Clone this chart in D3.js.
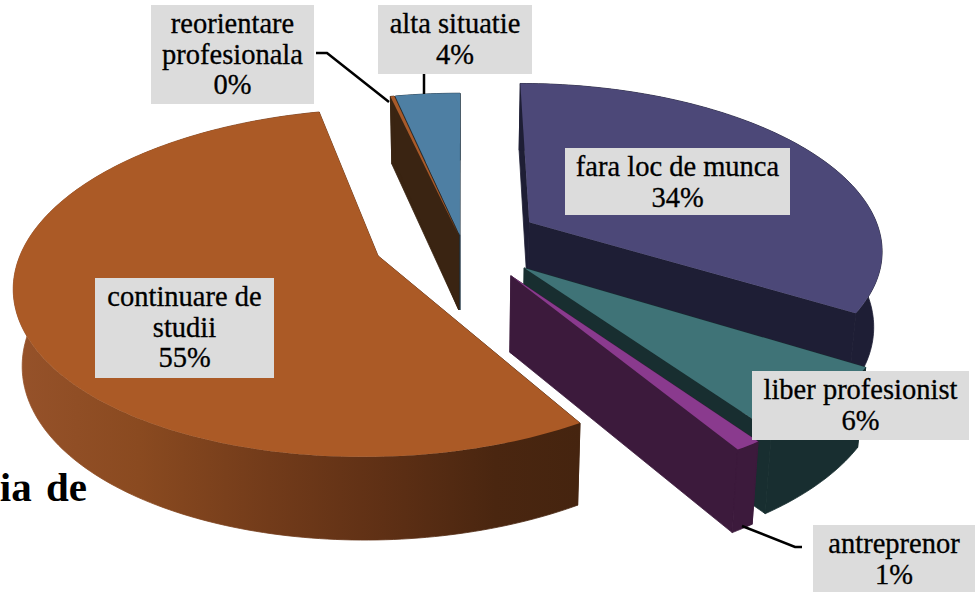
<!DOCTYPE html>
<html>
<head>
<meta charset="utf-8">
<script src="https://cdn.jsdelivr.net/npm/d3@7"></script>
<style>
    html, body { margin: 0; padding: 0; background: #fff; overflow: hidden; }
    text { font-family: "Liberation Serif", serif; }
</style>
</head>
<body>
<div id="chart"></div>
<script>
"use strict";

const categories = ["fara loc de munca", "liber profesionist", "antreprenor", "continuare de studii", "reorientare profesionala", "alta situatie"];
const shares = [33.8, 6.5, 1, 55.1, 0.2, 3.4];
const percentLabels = ["34%", "6%", "1%", "55%", "0%", "4%"];

// how far each slice is pulled out of the pie
const explode = [0.225, 0.24, 0.25, 0.25, 0.03, 0.03];
const topColors = ["#4c4878", "#3f7377", "#8a3a8e", "#ab5a26", "#a85a2a", "#4e7fa3"];
const wallColors = ["#1e1e35", "#182e30", "#3c1a3c", "url(#orangeWall)", "#3a2412", "#1f3545"];

const width = 975, height = 592;

// perspective of the pie plane
const cam = { x0: 461, y0: 240, rx: 353, ry: 165, k: 0.153, depth: 75, lean: 0.02 };

function project(X, Y, down) {
    const w = 1 / (1 - cam.k * Y);
    const sx = cam.x0 + cam.rx * X * w;
    const sy = cam.y0 + cam.ry * Y * w;
    if (!down) return [sx, sy];
    return [cam.x0 + (sx - cam.x0) * (1 - cam.lean), sy + cam.depth * (1 + 0.1 * Y)];
}

const line = d3.line();

const svg = d3.select("#chart").append("svg")
    .attr("width", width)
    .attr("height", height);

const grad = svg.append("defs").append("linearGradient")
    .attr("id", "orangeWall")
    .attr("gradientUnits", "userSpaceOnUse")
    .attr("x1", 15).attr("x2", 580).attr("y1", 0).attr("y2", 0);
[[0, "#96522a"], [0.22, "#8a4a20"], [0.45, "#723b1a"], [0.65, "#5f3015"], [0.85, "#4a2610"], [1, "#45240f"]]
    .forEach(d => grad.append("stop").attr("offset", d[0]).attr("stop-color", d[1]));

// the title behind the chart, cut off by the page edge
svg.append("text")
    .attr("x", 87)
    .attr("y", 501)
    .attr("text-anchor", "end")
    .attr("font-size", 41)
    .attr("font-weight", "bold")
    .attr("word-spacing", 4)
    .attr("fill", "#000")
    .text("ia de");

const pie = d3.pie().sort(null).startAngle(0).endAngle(2 * Math.PI);
const arcs = pie(shares);

// outline of one slice on the plane
function sliceGeometry(a, i) {
    const mid = (a.startAngle + a.endAngle) / 2;
    const ox = Math.sin(mid) * explode[i];
    const oy = -Math.cos(mid) * explode[i];
    const steps = Math.max(2, Math.ceil((a.endAngle - a.startAngle) / 0.02));
    const rim = d3.range(steps + 1).map(s => {
        const t = a.startAngle + (a.endAngle - a.startAngle) * s / steps;
        return [ox + Math.sin(t), oy - Math.cos(t)];
    });
    return { apex: [ox, oy], rim };
}

function quad(a, b) {
    return line([project(a[0], a[1]), project(b[0], b[1]), project(b[0], b[1], true), project(a[0], a[1], true)]) + "Z";
}

// back to front
const drawOrder = [5, 4, 0, 1, 3, 2];

const slices = svg.selectAll("g.slice")
    .data(drawOrder.map(i => ({ i, g: sliceGeometry(arcs[i], i) })))
    .join("g")
    .attr("class", "slice");

slices.each(function (d) {
    const g = d3.select(this);
    const first = d.g.rim[0], last = d.g.rim[d.g.rim.length - 1];
    const upper = d.g.rim.map(p => project(p[0], p[1]));
    const lower = d.g.rim.map(p => project(p[0], p[1], true)).reverse();
    const walls = [quad(d.g.apex, first), quad(d.g.apex, last), line(upper.concat(lower)) + "Z"];
    // the thin stroke closes the seams between the wall pieces
    g.selectAll("path.wall")
        .data(walls)
        .join("path")
        .attr("class", "wall")
        .attr("d", w => w)
        .attr("fill", wallColors[d.i])
        .attr("stroke", wallColors[d.i])
        .attr("stroke-width", 0.8);
    const top = [project(d.g.apex[0], d.g.apex[1])].concat(upper);
    g.append("path").attr("d", line(top) + "Z").attr("fill", topColors[d.i]);
});

// leader lines
const leaders = [
    [[316, 53], [327, 53], [389, 102]],
    [[424, 74], [424, 94]],
    [[802, 547], [795, 547], [742, 526]]
];
svg.selectAll("path.leader")
    .data(leaders)
    .join("path")
    .attr("class", "leader")
    .attr("d", d => line(d))
    .attr("fill", "none")
    .attr("stroke", "#000")
    .attr("stroke-width", 2.5);

// label boxes: slice index, box, wrapped lines
const labelBoxes = [
    { i: 0, x: 565, y: 148, w: 225, h: 67, lines: ["fara loc de munca"] },
    { i: 1, x: 752, y: 371, w: 217, h: 69, lines: ["liber profesionist"] },
    { i: 2, x: 813, y: 525, w: 162, h: 67, lines: ["antreprenor"] },
    { i: 3, x: 95, y: 278, w: 179, h: 100, lines: ["continuare de", "studii"] },
    { i: 4, x: 151, y: 5, w: 163, h: 99, lines: ["reorientare", "profesionala"] },
    { i: 5, x: 378, y: 5, w: 154, h: 69, lines: ["alta situatie"] }
];

const labels = svg.selectAll("g.label")
    .data(labelBoxes)
    .join("g")
    .attr("class", "label");

labels.append("rect")
    .attr("x", d => d.x)
    .attr("y", d => d.y)
    .attr("width", d => d.w)
    .attr("height", d => d.h)
    .attr("fill", "#dcdcdc");

labels.each(function (d) {
    const rows = d.lines.concat(percentLabels[d.i]);
    d3.select(this).selectAll("text")
        .data(rows)
        .join("text")
        .attr("x", d.x + d.w / 2)
        .attr("y", (r, n) => d.y + 28 + n * 30.5)
        .attr("text-anchor", "middle")
        .attr("font-size", 28.5)
        .attr("fill", "#000")
        .attr("stroke", "#000")
        .attr("stroke-width", 0.3)
        .text(r => r);
});
</script>
</body>
</html>
